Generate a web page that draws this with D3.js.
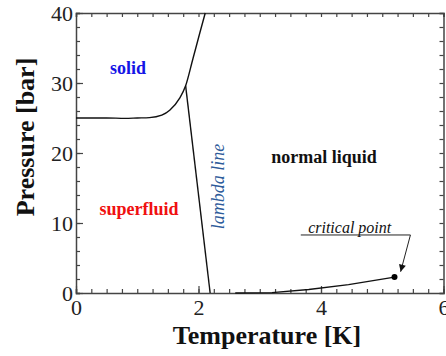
<!DOCTYPE html>
<html>
<head>
<meta charset="utf-8">
<script src="https://cdn.jsdelivr.net/npm/d3@7"></script>
<style>
  body { margin: 0; background: #fff; }
  svg { display: block; }
</style>
</head>
<body>
<div id="chart"></div>
<script>
// phase boundaries of helium-4 (T in K, P in bar)
var meltT = [0, 0.5, 0.8, 1.0, 1.2, 1.4, 1.53, 1.69, 1.79, 1.91, 2.02, 2.11];
var meltP = [25.0, 25.0, 24.95, 25.0, 25.05, 25.4, 26.1, 27.8, 29.6, 33.5, 37.1, 40];

var lambdaT = [1.79, 2.19];
var lambdaP = [29.6, 0];

var vapT = [2.6, 3.2, 3.8, 4.45, 5.2];
var vapP = [0, 0.05, 0.5, 1.19, 2.27];

var critT = 5.2, critP = 2.27;

var xTicks = [0, 2, 4, 6];
var yTicks = [0, 10, 20, 30, 40];

var serif = "'Liberation Serif', 'Times New Roman', serif";

var svgWidth = 446;
var svgHeight = 356;
var margin = { top: 13, left: 76, right: 2.5, bottom: 63 };
var width = svgWidth - margin.left - margin.right;
var height = svgHeight - margin.top - margin.bottom;

var svg = d3.select("#chart").append("svg")
    .attr("width", svgWidth)
    .attr("height", svgHeight);

var g = svg.append("g")
    .attr("transform", `translate(${margin.left}, ${margin.top})`);

var x = d3.scaleLinear().domain([0, 6]).range([0, width]);
var y = d3.scaleLinear().domain([0, 40]).range([height, 0]);

var axisColor = "#444";

// minor ticks first
var xMinor = d3.range(0, 6.001, 0.25);
var yMinor = d3.range(0, 40.001, 2);

function styleAxis(sel) {
    sel.selectAll("path").attr("stroke", axisColor).attr("stroke-width", 1.5);
    sel.selectAll("line").attr("stroke", axisColor).attr("stroke-width", 1.2);
    sel.selectAll("text")
        .style("font-family", serif)
        .style("font-size", "22px")
        .style("fill", "#222");
}

g.append("g").attr("transform", `translate(0, ${height})`)
    .call(d3.axisBottom(x).tickValues(xMinor).tickSize(-4).tickFormat(""))
    .call(styleAxis);
g.append("g")
    .call(d3.axisTop(x).tickValues(xMinor).tickSize(-4).tickFormat(""))
    .call(styleAxis);
g.append("g")
    .call(d3.axisLeft(y).tickValues(yMinor).tickSize(-4).tickFormat(""))
    .call(styleAxis);
g.append("g").attr("transform", `translate(${width}, 0)`)
    .call(d3.axisRight(y).tickValues(yMinor).tickSize(-4).tickFormat(""))
    .call(styleAxis);

// major ticks with labels
g.append("g").attr("transform", `translate(0, ${height})`)
    .call(d3.axisBottom(x).tickValues(xTicks).tickSize(-7).tickPadding(6).tickFormat(d3.format("d")))
    .call(styleAxis)
    .call(a => a.select(".domain").remove());
g.append("g")
    .call(d3.axisLeft(y).tickValues(yTicks).tickSize(-7).tickPadding(3).tickFormat(d3.format("d")))
    .call(styleAxis)
    .call(a => a.select(".domain").remove());

// curves
g.append("path")
    .datum(meltT.map((t, i) => [t, meltP[i]]))
    .attr("d", d3.line().x(d => x(d[0])).y(d => y(d[1])).curve(d3.curveMonotoneX))
    .attr("fill", "none").attr("stroke", "#111").attr("stroke-width", 1.4);

g.append("path")
    .datum(lambdaT.map((t, i) => [t, lambdaP[i]]))
    .attr("d", d3.line().x(d => x(d[0])).y(d => y(d[1])))
    .attr("fill", "none").attr("stroke", "#111").attr("stroke-width", 1.4);

g.append("path")
    .datum(vapT.map((t, i) => [t, vapP[i]]))
    .attr("d", d3.line().x(d => x(d[0])).y(d => y(d[1])))
    .attr("fill", "none").attr("stroke", "#111").attr("stroke-width", 1.4);

g.append("circle")
    .attr("cx", x(critT)).attr("cy", y(critP))
    .attr("r", 3).attr("fill", "#000");

// annotation arrow
svg.append("defs").append("marker")
    .attr("id", "arrow")
    .attr("viewBox", "0 0 10 10")
    .attr("refX", 10).attr("refY", 5)
    .attr("markerWidth", 9).attr("markerHeight", 7)
    .attr("markerUnits", "userSpaceOnUse")
    .attr("orient", "auto")
    .append("path").attr("d", "M0,0 L10,5 L0,10 Z").attr("fill", "#111");

g.append("path")
    .attr("d", d3.line()([[x(3.67), y(8.29)], [x(5.46), y(8.29)], [x(5.30), y(3.04)]]))
    .attr("fill", "none").attr("stroke", "#222").attr("stroke-width", 1)
    .attr("marker-end", "url(#arrow)");

g.append("text")
    .attr("x", x(3.79)).attr("y", y(8.57))
    .style("font-family", serif)
    .style("font-style", "italic")
    .style("font-size", "16px")
    .style("fill", "#111")
    .text("critical point");

// region labels
var labelText = ["solid", "superfluid", "normal liquid"];
var labelT = [0.85, 1.03, 4.05];
var labelP = [31.3, 11.1, 18.6];
var labelColor = ["#1515e6", "#f01010", "#111"];

g.selectAll(".region")
    .data(labelText)
    .enter()
    .append("text")
    .attr("class", "region")
    .attr("x", (d, i) => x(labelT[i]))
    .attr("y", (d, i) => y(labelP[i]))
    .attr("text-anchor", "middle")
    .style("font-family", serif)
    .style("font-weight", "bold")
    .style("font-size", "18px")
    .style("fill", (d, i) => labelColor[i])
    .text(d => d);

g.append("text")
    .attr("transform", `translate(${x(2.32)}, ${y(15.2)}) rotate(-90)`)
    .attr("text-anchor", "middle")
    .attr("dy", "0.3em")
    .style("font-family", serif)
    .style("font-style", "italic")
    .style("font-size", "18px")
    .style("fill", "#2d5b9a")
    .text("lambda line");

// axis titles
svg.append("text")
    .attr("transform", "translate(34, 137) rotate(-90)")
    .attr("text-anchor", "middle")
    .style("font-family", serif)
    .style("font-weight", "bold")
    .style("font-size", "26px")
    .style("fill", "#111")
    .text("Pressure [bar]");

svg.append("text")
    .attr("x", 267).attr("y", 344)
    .attr("text-anchor", "middle")
    .style("font-family", serif)
    .style("font-weight", "bold")
    .style("font-size", "26px")
    .style("fill", "#111")
    .text("Temperature [K]");
</script>
</body>
</html>
